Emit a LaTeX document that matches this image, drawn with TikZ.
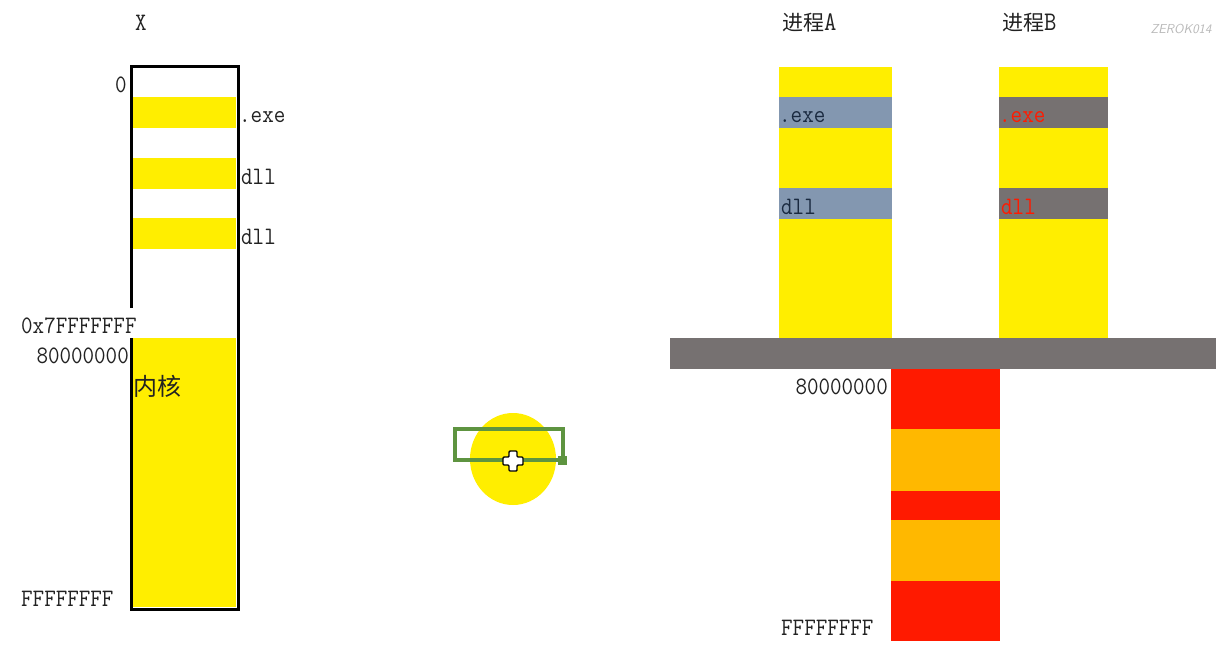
\documentclass[tikz,border=0pt]{standalone}
\usepackage{fontspec}
\usepackage{graphicx}
\newfontfamily\cjk{Noto Sans CJK SC}
\newcommand\mono[1]{\scalebox{1}[1.12]{\ttfamily #1}}
\definecolor{memyellow}{HTML}{FFEE00}
\definecolor{bandblue}{HTML}{8397B0}
\definecolor{bandgray}{HTML}{767171}
\definecolor{kred}{HTML}{FF1A00}
\definecolor{korange}{HTML}{FFB800}
\definecolor{labelink}{HTML}{222222}
\definecolor{navyink}{HTML}{1A2A40}
\definecolor{selgreen}{HTML}{5E9440}
\definecolor{selblue}{HTML}{6A96B0}
\tikzset{
  lbl/.style={inner sep=0pt, font=\fontsize{22.4}{24}\selectfont, text=labelink},
  cjklbl/.style={inner sep=0pt, font=\cjk\fontsize{21}{23}\selectfont, text=labelink},
  frame/.style={line width=3pt, black},
}
\begin{document}
\begin{tikzpicture}[x=1pt,y=-1pt]
\useasboundingbox (0,0) rectangle (1231,658);
\fill[white] (0,0) rectangle (1231,658);

% ---------- left: address space X ----------
\node[lbl] (xlab) at (141,23) {\mono{X}};
\fill[memyellow] (133,97) rectangle (236,128);
\fill[memyellow] (133,158) rectangle (236,189);
\fill[memyellow] (133,218) rectangle (236,249);
\fill[memyellow] (133,338) rectangle (236,607);
\coordinate (tl) at (131,67);
\coordinate (tr) at (238,67);
\coordinate (br) at (238,609);
\coordinate (bl) at (131,609);
\coordinate (gapTop) at (131,308);
\coordinate (gapBot) at (131,338);
\draw[frame] (gapTop) -- (tl) -- (tr) -- (br) -- (bl) -- (gapBot);
\node[lbl] (zero) at (121,85) {\mono{0}};
\node[lbl, anchor=west] (exel) at (239,117) {\mono{.exe}};
\node[lbl, anchor=west] (dll1) at (241,177) {\mono{dll}};
\node[lbl, anchor=west] (dll2) at (241,237) {\mono{dll}};
\node[lbl, anchor=west] (h7f) at (21,326) {\mono{0x7FFFFFFF}};
\node[lbl, anchor=east] (h80L) at (129,356) {\mono{80000000}};
\node[cjklbl, anchor=west, font=\cjk\fontsize{24}{26}\selectfont] (kern) at (133,386) {内核};
\node[lbl, anchor=west] (hffL) at (21,599) {\mono{FFFFFFFF}};

% ---------- middle: selection marker ----------
\fill[memyellow] (513,459) ellipse [x radius=43, y radius=46];
\draw[selblue, line width=2.8pt] (468,459) -- (560,459);
\draw[selgreen, line width=3.4pt] (455,429) rectangle (563,460);
\fill[selgreen] (558,456) rectangle (567,465);
\draw[black, line width=1.4pt, fill=white, rounded corners=1pt]
  (509,451) -- (517,451) -- (517,457) -- (523,457) -- (523,465) -- (517,465)
  -- (517,471) -- (509,471) -- (509,465) -- (503,465) -- (503,457) -- (509,457) -- cycle;

% ---------- right: processes A and B ----------
\node[cjklbl, anchor=west] (pa) at (782,23) {进程{\fontsize{24}{26}\selectfont\mono{A}}};
\node[cjklbl, anchor=west] (pb) at (1002,23) {进程{\fontsize{24}{26}\selectfont\mono{B}}};
\node[font=\itshape\sffamily\fontsize{13}{14}\selectfont, text=gray!55, inner sep=0pt] (wm) at (1181,29) {ZEROK014};

\fill[memyellow] (779,67) rectangle (892,338);
\fill[bandblue] (779,97) rectangle (892,128);
\fill[bandblue] (779,188) rectangle (892,219);
\fill[memyellow] (999,67) rectangle (1108,338);
\fill[bandgray] (999,97) rectangle (1108,128);
\fill[bandgray] (999,188) rectangle (1108,219);
\node[lbl, anchor=west, text=navyink] (exeA) at (779,117) {\mono{.exe}};
\node[lbl, anchor=west, text=navyink] (dllA) at (781,207) {\mono{dll}};
\node[lbl, anchor=west, text=kred] (exeB) at (999,117) {\mono{.exe}};
\node[lbl, anchor=west, text=kred] (dllB) at (1001,207) {\mono{dll}};

\fill[bandgray] (670,338) rectangle (1216,369);

\fill[kred] (891,369) rectangle (1000,429);
\fill[korange] (891,429) rectangle (1000,491);
\fill[kred] (891,491) rectangle (1000,520);
\fill[korange] (891,520) rectangle (1000,581);
\fill[kred] (891,581) rectangle (1000,641);
\node[lbl, anchor=east] (h80R) at (888,387) {\mono{80000000}};
\node[lbl, anchor=west] (hffR) at (781,628) {\mono{FFFFFFFF}};
\end{tikzpicture}
\end{document}
